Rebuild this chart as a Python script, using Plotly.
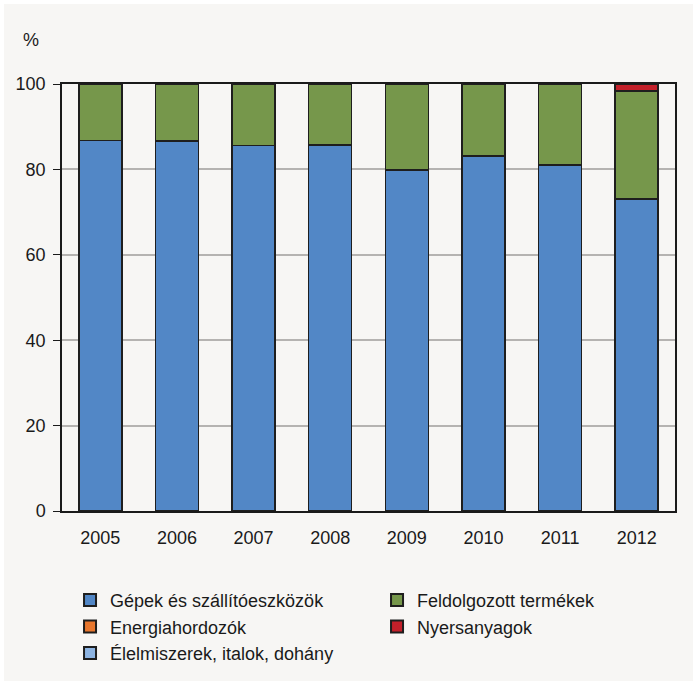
import plotly.graph_objects as go

years = ["2005", "2006", "2007", "2008", "2009", "2010", "2011", "2012"]
gepek = [86.8, 86.6, 85.6, 85.7, 79.9, 83.1, 81.0, 73.1]
feldolgozott = [13.2, 13.4, 14.4, 14.3, 20.1, 16.9, 19.0, 25.3]
energia = [0, 0, 0, 0, 0, 0, 0, 0]
nyersanyag = [0, 0, 0, 0, 0, 0, 0, 1.6]
elelmiszer = [0, 0, 0, 0, 0, 0, 0, 0]
y_ticks = [0, 20, 40, 60, 80, 100]

series = [
    ("Gépek és szállítóeszközök", gepek, "#5287c6"),
    ("Feldolgozott termékek", feldolgozott, "#76974b"),
    ("Energiahordozók", energia, "#e8772e"),
    ("Nyersanyagok", nyersanyag, "#c3202a"),
    ("Élelmiszerek, italok, dohány", elelmiszer, "#8db4e2"),
]

FONT = "Liberation Sans Narrow, Arial Narrow, Liberation Sans, Arial, sans-serif"
BG = "#f7f6f4"
FS = 18

fig = go.Figure()
for name, vals, col in series:
    fig.add_trace(go.Bar(
        x=years, y=vals, name=name,
        marker=dict(color=col, line=dict(color="#1e1e1e", width=1.5)),
    ))

W, H = 693, 681
L, R, T, B = 62, 18, 84, 170
PW, PH = W - L - R, H - T - B


def px_x(p):
    return (p - L) / PW


def px_y(p):
    return (H - B - p) / PH


fig.update_layout(
    barmode="stack",
    bargap=0.44,
    width=W, height=H,
    margin=dict(l=L, r=R, t=T, b=B, autoexpand=False),
    paper_bgcolor=BG,
    plot_bgcolor=BG,
    font=dict(family=FONT, size=FS, color="#1a1a1a"),
    showlegend=True,
    legend=dict(
        orientation="h",
        x=0.0131, xanchor="left",
        y=-0.166, yanchor="top",
        entrywidth=262, entrywidthmode="pixels",
        font=dict(family=FONT, size=FS, color="#1a1a1a"),
        bgcolor="rgba(0,0,0,0)",
        itemsizing="constant",
        traceorder="normal",
    ),
    xaxis=dict(
        showline=True, linecolor="#1a1a1a", linewidth=1.5, mirror=True,
        ticks="", tickfont=dict(family=FONT, size=FS),
        ticklabelstandoff=10,
        showgrid=False,
    ),
    yaxis=dict(
        range=[0, 100], tickvals=y_ticks,
        showline=True, linecolor="#1a1a1a", linewidth=1.5, mirror=True,
        ticks="outside", ticklen=7, tickcolor="#1a1a1a", tickwidth=1,
        ticklabelstandoff=4,
        showgrid=True, gridcolor="#b5b3b1", gridwidth=2,
        zeroline=False,
        tickfont=dict(family=FONT, size=FS),
    ),
    shapes=[
        dict(type="rect", xref="paper", yref="paper",
             x0=px_x(0), x1=px_x(W), y0=px_y(4), y1=px_y(0),
             fillcolor="white", line=dict(width=0), layer="below"),
        dict(type="rect", xref="paper", yref="paper",
             x0=px_x(0), x1=px_x(4), y0=px_y(H), y1=px_y(0),
             fillcolor="white", line=dict(width=0), layer="below"),
    ],
    annotations=[dict(
        text="%", xref="paper", yref="paper",
        x=px_x(31), y=px_y(40),
        xanchor="center", yanchor="middle", showarrow=False,
        font=dict(family=FONT, size=FS, color="#1a1a1a"),
    )],
)

fig.write_html("out.html", config={"displayModeBar": False},
               post_script="document.body.style.margin='0';")
